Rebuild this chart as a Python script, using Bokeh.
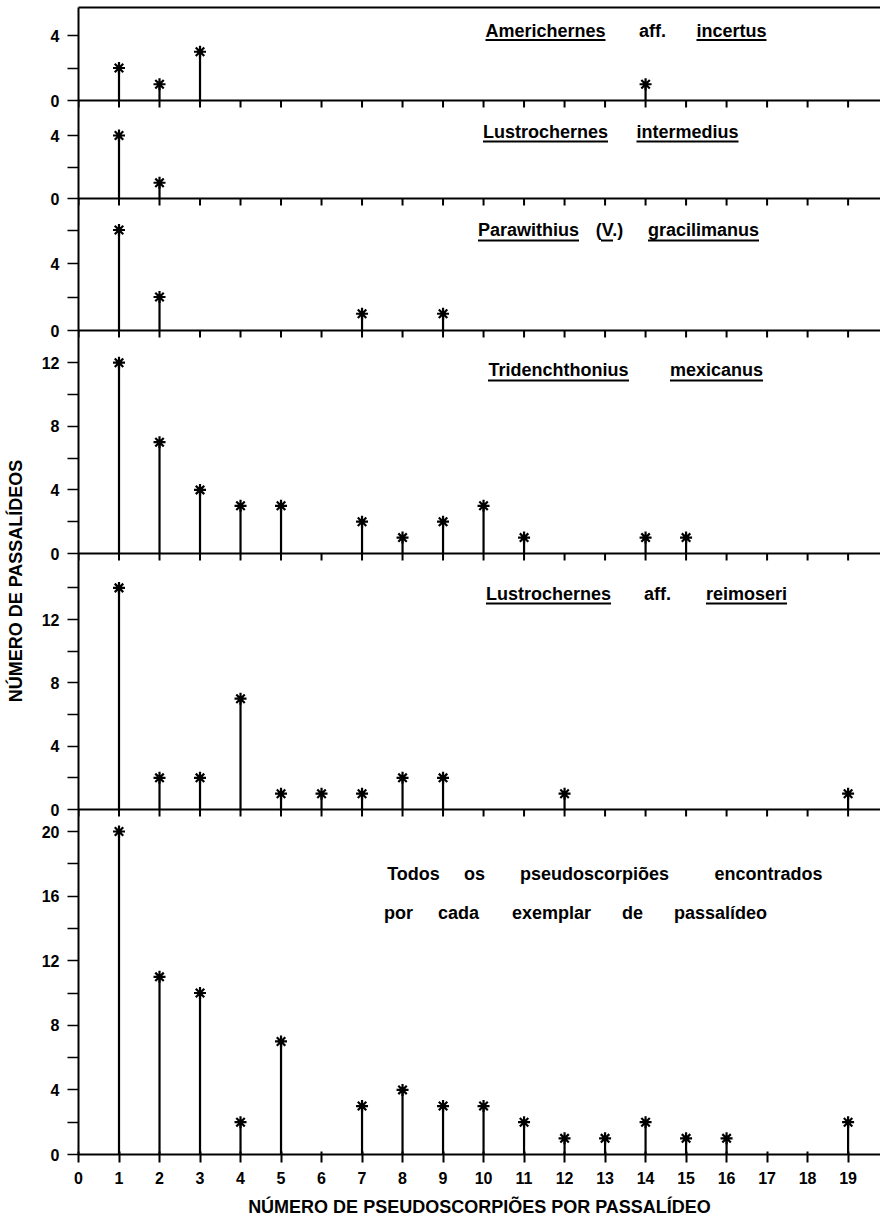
from bokeh.plotting import figure
from bokeh.models import Range1d, LinearAxis, FixedTicker, Span, ColumnDataSource
from bokeh.embed import file_html
from bokeh.resources import INLINE
from bokeh.core.properties import value

# ---------------- data ----------------
x_ticks = list(range(0, 20))

americhernes_x = [1, 2, 3, 14]
americhernes_y = [2, 1, 3, 1]

intermedius_x = [1, 2]
intermedius_y = [4, 1]

parawithius_x = [1, 2, 7, 9]
parawithius_y = [6, 2, 1, 1]

tridenchthonius_x = [1, 2, 3, 4, 5, 7, 8, 9, 10, 11, 14, 15]
tridenchthonius_y = [12, 7, 4, 3, 3, 2, 1, 2, 3, 1, 1, 1]

reimoseri_x = [1, 2, 3, 4, 5, 6, 7, 8, 9, 12, 19]
reimoseri_y = [14, 2, 2, 7, 1, 1, 1, 2, 2, 1, 1]

todos_x = [1, 2, 3, 4, 5, 7, 8, 9, 10, 11, 12, 13, 14, 15, 16, 19]
todos_y = [20, 11, 10, 2, 7, 3, 4, 3, 3, 2, 1, 1, 2, 1, 1, 2]

y_major = [[0, 4], [0, 4], [0, 4], [0, 4, 8, 12], [0, 4, 8, 12], [0, 4, 8, 12, 16, 20]]
y_minor = [[2], [2], [2, 6], [2, 6, 10], [2, 6, 10, 14], [2, 6, 10, 14, 18]]

x_title = "NÚMERO DE PSEUDOSCORPIÕES POR PASSALÍDEO"
y_title = "NÚMERO DE PASSALÍDEOS"

# ---------------- layout / style ----------------
FONT = "Liberation Sans"
FRAME_LEFT = 78
FRAME_TOP = 7
FRAME_W = 802
X_END = 19.8
PX_PER_X = FRAME_W / X_END

panel_h = [93, 98, 132, 223, 256, 345]          # pixel height of each stacked panel
panel_ppu = [16.25, 15.75, 16.75, 15.9, 15.83, 16.15]  # pixels per count unit
H_TOT = sum(panel_h)
FRAME_BOTTOM = FRAME_TOP + H_TOT
bases = [H_TOT - sum(panel_h[:k + 1]) for k in range(6)]   # panel baselines, px from frame bottom

HB = {"A": .722, "L": .611, "P": .667, "T": .611, "V": .667, "(": .333, ")": .333, ".": .278,
      "a": .556, "b": .611, "c": .556, "d": .611, "e": .556, "f": .333, "g": .611, "h": .611,
      "i": .278, "l": .278, "m": .889, "n": .611, "o": .611, "p": .611, "r": .389, "s": .556,
      "t": .333, "u": .611, "w": .778, "x": .556, "õ": .611, "í": .278}
SP_SIZE = 18

# (word, centre page-x, underline mode); 'mid' = vertical centre of the text, 'ul' = underline
species_words = [
    dict(mid=30, ul=39.5, words=[("Americhernes", 545, "all"), ("aff.", 652, None), ("incertus", 731, "all")]),
    dict(mid=131, ul=141, words=[("Lustrochernes", 545, "all"), ("intermedius", 687, "all")]),
    dict(mid=229, ul=240, words=[("Parawithius", 528, "all"), ("(V.)", 609, "V"), ("gracilimanus", 703, "all")]),
    dict(mid=369, ul=380, words=[("Tridenchthonius", 558, "all"), ("mexicanus", 716, "all")]),
    dict(mid=593, ul=603, words=[("Lustrochernes", 548, "all"), ("aff.", 657, None), ("reimoseri", 746, "all")]),
]
todos_lines = [
    (873, [("Todos", 413), ("os", 474), ("pseudoscorpiões", 594), ("encontrados", 768)]),
    (912, [("por", 398), ("cada", 458), ("exemplar", 551), ("de", 632), ("passalídeo", 720)]),
]


def tw(s, size):
    return sum(HB.get(c, 0.6) for c in s) * size


def px_to_x(px):
    return (px - FRAME_LEFT) / PX_PER_X


def py_to_y(py):
    return FRAME_BOTTOM - py


series = [(americhernes_x, americhernes_y), (intermedius_x, intermedius_y),
          (parawithius_x, parawithius_y), (tridenchthonius_x, tridenchthonius_y),
          (reimoseri_x, reimoseri_y), (todos_x, todos_y)]

p = figure(frame_width=FRAME_W, frame_height=H_TOT, x_range=Range1d(0, X_END), y_range=Range1d(0, H_TOT),
           x_axis_location=None, y_axis_location=None, toolbar_location=None, output_backend="svg",
           title=None, min_border=0, min_border_left=FRAME_LEFT, min_border_top=FRAME_TOP,
           outline_line_color=None, background_fill_color="white", border_fill_color="white")
p.grid.visible = False

p.extra_y_ranges = {
    f"p{k}": Range1d(-bases[k] / panel_ppu[k], (H_TOT - bases[k]) / panel_ppu[k]) for k in range(6)
}

# left axis: one continuous axis carrying every panel's ticks
ticks, minors, overrides = [], [], {}
for k in range(6):
    for v in y_major[k]:
        pos = round(bases[k] + v * panel_ppu[k], 3)
        ticks.append(pos)
        overrides[pos] = str(v)
    for v in y_minor[k]:
        minors.append(round(bases[k] + v * panel_ppu[k], 3))

tick_font = dict(major_label_text_font=FONT, major_label_text_font_style="bold",
                 major_label_text_font_size="16px", major_label_text_color="black")

yax = LinearAxis(ticker=FixedTicker(ticks=ticks, minor_ticks=minors), major_label_overrides=overrides,
                 major_tick_in=0, major_tick_out=11, minor_tick_in=0, minor_tick_out=11,
                 major_tick_line_width=1.5, minor_tick_line_width=1.5, axis_line_width=2,
                 major_label_standoff=8, axis_label=y_title, axis_label_standoff=13,
                 axis_label_text_font=FONT, axis_label_text_font_style="bold",
                 axis_label_text_font_size="18px", axis_label_text_color="black", **tick_font)
p.add_layout(yax, "left")

tax = LinearAxis(ticker=FixedTicker(ticks=[]), major_tick_in=0, major_tick_out=0,
                 minor_tick_in=0, minor_tick_out=0, axis_line_width=2, major_label_standoff=0)
p.add_layout(tax, "above")

bax = LinearAxis(ticker=FixedTicker(ticks=x_ticks), major_tick_in=3, major_tick_out=8,
                 minor_tick_in=0, minor_tick_out=0, major_tick_line_width=2, axis_line_width=2,
                 major_label_standoff=9, axis_label=x_title, axis_label_standoff=10,
                 axis_label_text_font=FONT, axis_label_text_font_style="bold",
                 axis_label_text_font_size="18px", axis_label_text_color="black", **tick_font)
p.add_layout(bax, "below")

# panel separators (baselines of the upper panels) with their downward ticks
TICK_LEN = 7
for k in range(5):
    p.add_layout(Span(location=bases[k], dimension="width", line_color="black", line_width=2))
    p.segment(x0=x_ticks, y0=[bases[k]] * len(x_ticks), x1=x_ticks,
              y1=[bases[k] - TICK_LEN] * len(x_ticks), line_color="black", line_width=2)

# stems and asterisks, each panel on its own count scale
for k, (xs, ys) in enumerate(series):
    src = ColumnDataSource(dict(x=xs, y=ys))
    p.segment(x0="x", y0=0, x1="x", y1="y", source=src, line_color="black", line_width=2.2,
              y_range_name=f"p{k}")
    p.scatter("x", "y", source=src, marker="asterisk", size=12, line_color="black", line_width=2.2,
              y_range_name=f"p{k}")

# species names with underlines
wx, wy, wt, ux0, ux1, uy = [], [], [], [], [], []
for spec in species_words:
    for word, cx, mode in spec["words"]:
        wx.append(px_to_x(cx)); wy.append(py_to_y(spec["mid"])); wt.append(word)
        w = tw(word, SP_SIZE)
        left = cx - w / 2
        if mode == "all":
            ux0.append(px_to_x(left)); ux1.append(px_to_x(left + w)); uy.append(py_to_y(spec["ul"]))
        elif mode == "V":
            ux0.append(px_to_x(left + tw("(", SP_SIZE)))
            ux1.append(px_to_x(left + tw("(V", SP_SIZE)))
            uy.append(py_to_y(spec["ul"]))
p.text(x=wx, y=wy, text=wt, text_font=value(FONT), text_font_style="bold",
       text_font_size=f"{SP_SIZE}px", text_align="center", text_baseline="middle", text_color="black")
p.segment(x0=ux0, y0=uy, x1=ux1, y1=uy, line_color="black", line_width=1.8)

tx, ty, tt = [], [], []
for mid, words in todos_lines:
    for word, cx in words:
        tx.append(px_to_x(cx)); ty.append(py_to_y(mid)); tt.append(word)
p.text(x=tx, y=ty, text=tt, text_font=value(FONT), text_font_style="bold",
       text_font_size="18px", text_align="center", text_baseline="middle", text_color="black")

open("out.html", "w").write(file_html(p, INLINE))
